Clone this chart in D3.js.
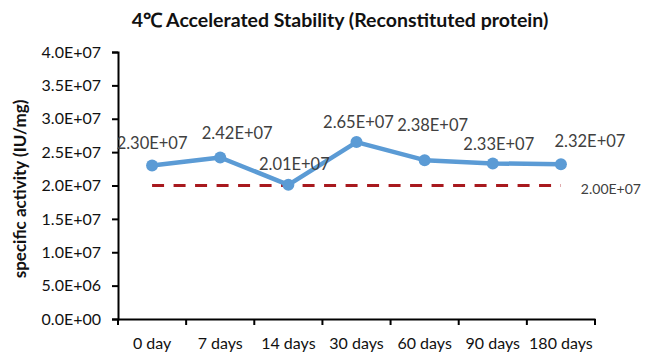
<!DOCTYPE html>
<html>
<head>
<meta charset="utf-8">
<script src="https://cdn.jsdelivr.net/npm/d3@7"></script>
<style>
  body { margin: 0; background: #fff; }
  text { font-family: Lato, 'Open Sans', sans-serif; }
</style>
</head>
<body>
<div id="chart"></div>
<script>
const categories = ['0 day', '7 days', '14 days', '30 days', '60 days', '90 days', '180 days'];
const activity = [2.30e7, 2.42e7, 2.01e7, 2.65e7, 2.38e7, 2.33e7, 2.32e7];
const activityLabels = ['2.30E+07', '2.42E+07', '2.01E+07', '2.65E+07', '2.38E+07', '2.33E+07', '2.32E+07'];
const limitValue = 2.0e7;
const limitLabel = '2.00E+07';
const yTicks = [0, 5e6, 1e7, 1.5e7, 2e7, 2.5e7, 3e7, 3.5e7, 4e7];
const yTickLabels = ['0.0E+00', '5.0E+06', '1.0E+07', '1.5E+07', '2.0E+07', '2.5E+07', '3.0E+07', '3.5E+07', '4.0E+07'];

const width = 650, height = 363;
const margin = { top: 52, right: 55, bottom: 44, left: 118 };
const innerW = width - margin.left - margin.right;
const innerH = height - margin.top - margin.bottom;

const svg = d3.select('#chart').append('svg')
  .attr('width', width).attr('height', height);

const g = svg.append('g')
  .attr('transform', 'translate(' + margin.left + ',' + margin.top + ')');

const x = d3.scaleBand().domain(categories).range([0, innerW]);
const y = d3.scaleLinear().domain([0, 4e7]).range([innerH, 0]);
const cx = d => x(d) + x.bandwidth() / 2;

// title
svg.append('text')
  .attr('x', 340).attr('y', 27)
  .attr('text-anchor', 'middle')
  .style('font-size', '19.5px').style('font-weight', 'bold')
  .attr('fill', '#111')
  .text('4℃ Accelerated Stability (Reconstituted protein)');

// Y axis
const yAxis = g.append('g')
  .call(d3.axisLeft(y).tickValues(yTicks).tickSize(6).tickFormat((d, i) => yTickLabels[i]));
yAxis.select('.domain').attr('stroke', '#000').attr('stroke-width', 2);
yAxis.selectAll('.tick line').attr('stroke-width', 2);
yAxis.selectAll('.tick text').attr('x', -17).style('font-size', '16px').attr('fill', '#111');

// X axis
const xAxis = g.append('g')
  .attr('transform', 'translate(0,' + innerH + ')')
  .call(d3.axisBottom(x).tickSize(0).tickSizeOuter(0));
xAxis.select('.domain').attr('stroke', '#000').attr('stroke-width', 2);
xAxis.selectAll('.tick text').attr('y', 19).style('font-size', '16px').attr('fill', '#111');
// boundary ticks between categories
xAxis.selectAll('.bound')
  .data(categories.concat(['end']))
  .join('line')
  .attr('x1', (d, i) => i < categories.length ? x(d) : innerW)
  .attr('x2', (d, i) => i < categories.length ? x(d) : innerW)
  .attr('y1', 0).attr('y2', 6)
  .attr('stroke', '#000').attr('stroke-width', 2);

// Y label
svg.append('text')
  .attr('transform', 'translate(26,189)rotate(-90)')
  .attr('text-anchor', 'middle')
  .style('font-size', '17px').style('font-weight', 'bold')
  .attr('fill', '#111')
  .text('specific activity (IU/mg)');

// limit line
g.append('line')
  .attr('x1', cx(categories[0])).attr('x2', cx(categories[categories.length - 1]))
  .attr('y1', y(limitValue)).attr('y2', y(limitValue))
  .attr('stroke', '#A8191E').attr('stroke-width', 3)
  .attr('stroke-dasharray', '12,9.5');

g.append('text')
  .attr('x', cx(categories[categories.length - 1]) + 50)
  .attr('y', y(limitValue) + 8)
  .attr('text-anchor', 'middle')
  .style('font-size', '14px').attr('fill', '#404040')
  .text(limitLabel);

// series line
const line = d3.line().x((d, i) => cx(categories[i])).y(d => y(d));
g.append('path')
  .datum(activity)
  .attr('d', line)
  .attr('fill', 'none')
  .attr('stroke', '#5B9BD5').attr('stroke-width', 4.5)
  .attr('stroke-linejoin', 'round');

g.selectAll('.pt')
  .data(activity)
  .join('circle')
  .attr('cx', (d, i) => cx(categories[i]))
  .attr('cy', d => y(d))
  .attr('r', 6)
  .attr('fill', '#5B9BD5');

// data labels
const labelOffsets = [[0, -16], [17, -18], [6, -15], [2, -14], [8, -29], [6, -13], [29, -17]];
g.selectAll('.lbl')
  .data(activity)
  .join('text')
  .attr('x', (d, i) => cx(categories[i]) + labelOffsets[i][0])
  .attr('y', (d, i) => y(d) + labelOffsets[i][1])
  .attr('text-anchor', 'middle')
  .style('font-size', '16.5px').attr('fill', '#404040')
  .text((d, i) => activityLabels[i]);
</script>
</body>
</html>
